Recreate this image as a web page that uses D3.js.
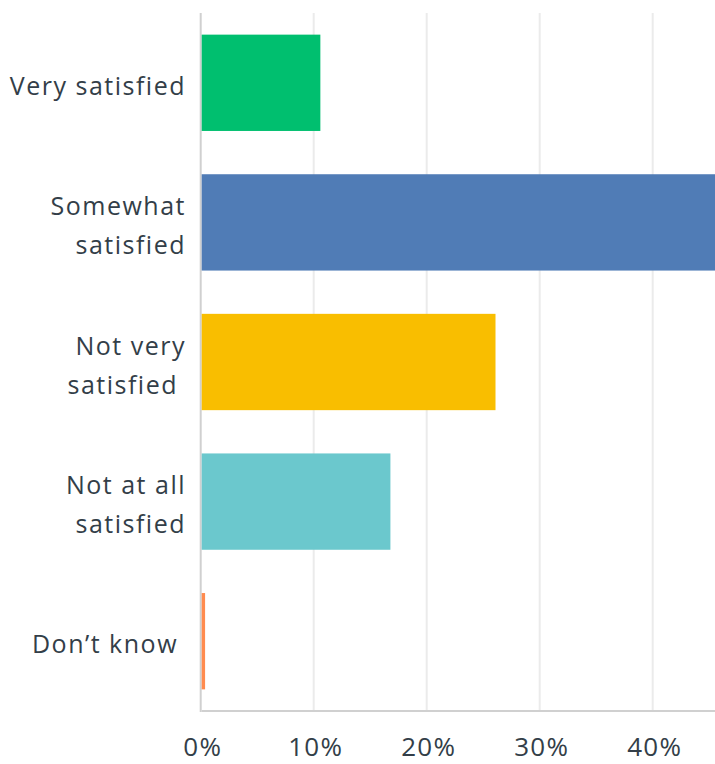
<!DOCTYPE html>
<html>
<head>
<meta charset="utf-8">
<script src="https://cdn.jsdelivr.net/npm/d3@7"></script>
<style>
  html, body { margin: 0; padding: 0; background: #fff; }
  svg { display: block; }
  text { font-family: "Open Sans", sans-serif; fill: #333e48; white-space: pre; }
</style>
</head>
<body>
<svg id="chart" width="715" height="764"></svg>
<script>
// Survey responses: satisfaction level and share of respondents (%)
const categories = [
  ["Very satisfied"],
  ["Somewhat", "satisfied"],
  ["Not very", "satisfied "],
  ["Not at all", "satisfied"],
  ["Don\u2019t know "]
];
const values = [10.5, 46.5, 26.0, 16.7, 0.3];
const colors = ["#00bf6f", "#507cb6", "#f9be00", "#6bc8cd", "#ff8b4f"];
const tickValues = [0, 10, 20, 30, 40];
const tickLabels = ["0%", "10%", "20%", "30%", "40%"];

const svg = d3.select("#chart");
const plotLeft = 201.7, plotTop = 13, plotBottom = 711;

const x = d3.scaleLinear().domain([0, 10]).range([plotLeft, plotLeft + 113]);
const y = d3.scaleBand()
  .domain(d3.range(categories.length))
  .range([plotTop, plotBottom])
  .paddingInner(0.31)
  .paddingOuter(0.155);

// gridlines
svg.append("g").selectAll("line")
  .data(tickValues.slice(1))
  .join("line")
  .attr("x1", d => x(d) - 1).attr("x2", d => x(d) - 1)
  .attr("y1", plotTop).attr("y2", plotBottom)
  .attr("stroke", "#ebebeb").attr("stroke-width", 2);

// axis lines
svg.append("line")
  .attr("x1", x(0) - 1).attr("x2", x(0) - 1)
  .attr("y1", plotTop).attr("y2", plotBottom + 1)
  .attr("stroke", "#d0d0d0").attr("stroke-width", 2);
svg.append("line")
  .attr("x1", x(0)).attr("x2", 715)
  .attr("y1", plotBottom).attr("y2", plotBottom)
  .attr("stroke", "#d0d0d0").attr("stroke-width", 2);

// bars
svg.append("g").selectAll("rect")
  .data(values)
  .join("rect")
  .attr("x", x(0))
  .attr("y", (d, i) => y(i))
  .attr("width", d => x(d) - x(0))
  .attr("height", y.bandwidth())
  .attr("fill", (d, i) => colors[i]);

// category labels
const lineGap = 39;
const labels = svg.append("g").selectAll("text")
  .data(categories)
  .join("text")
  .attr("text-anchor", "end")
  .attr("font-size", 25)
  .attr("letter-spacing", 1.5);
labels.each(function(lines, i) {
  const cy = y(i) + y.bandwidth() / 2;
  const first = cy + 12 - (lines.length - 1) * lineGap / 2;
  d3.select(this).selectAll("tspan")
    .data(lines)
    .join("tspan")
    .attr("x", 186)
    .attr("y", (d, j) => first + j * lineGap)
    .text(d => d);
});

// x tick labels
svg.append("g").selectAll("text")
  .data(tickValues)
  .join("text")
  .attr("x", d => x(d) + 1)
  .attr("y", 756)
  .attr("text-anchor", "middle")
  .attr("font-size", 26)
  .attr("letter-spacing", 1.2)
  .text((d, i) => tickLabels[i]);
</script>
</body>
</html>
